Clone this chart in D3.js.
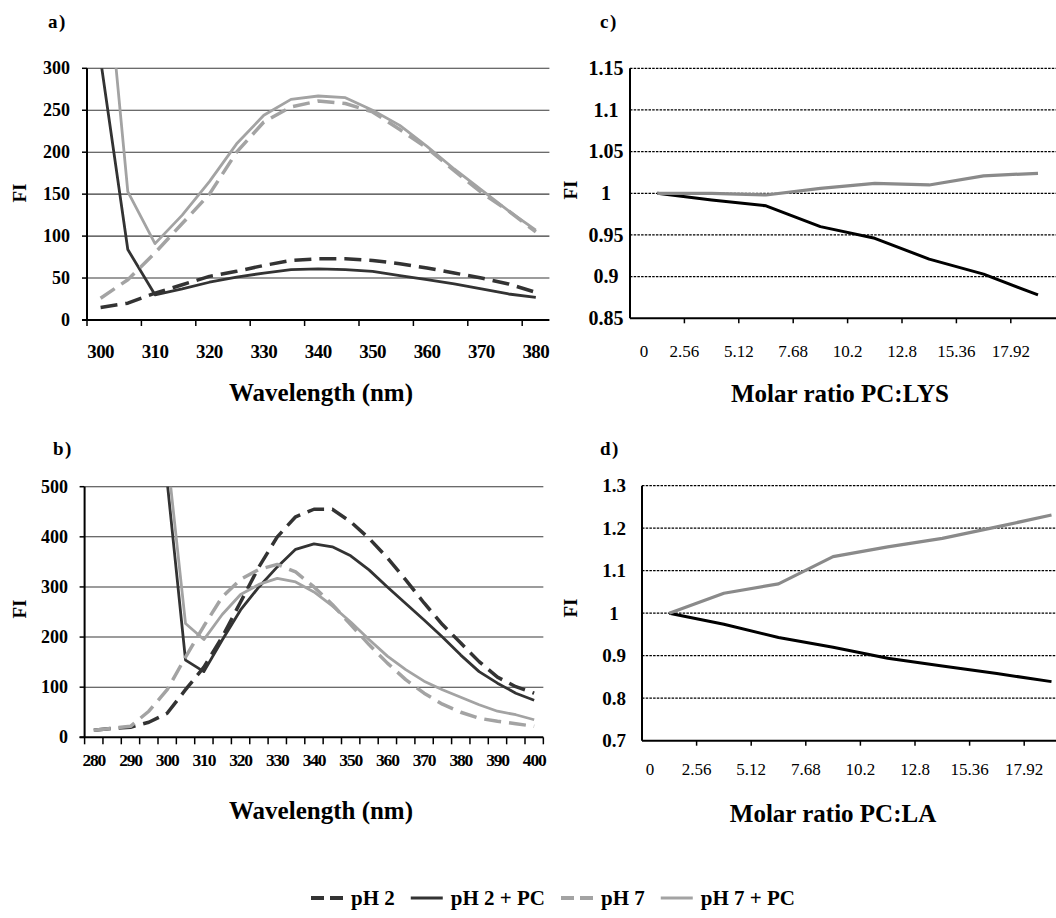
<!DOCTYPE html>
<html><head><meta charset="utf-8">
<script src="https://cdn.jsdelivr.net/npm/d3@7"></script>
<style>
body{margin:0;background:#fff}
svg text{font-family:"Liberation Serif","Times New Roman",serif;fill:#000}
</style>
</head><body>
<svg id="chart" width="1056" height="918"></svg>
<script>
// ---------- DATA ----------
const wavelengthA = [300,305,310,315,320,325,330,335,340,345,350,355,360,365,370,375,380];
const aPH2   = [15,20,32,42,52,58,65,71,73,73,71,67,62,56,50,43,33];
const aPH2PC = [310,84,30,37,45,51,56,60,61,60,58,53,48,43,37,31,27];
const aPH7   = [26,48,80,115,150,200,236,254,261,258,248,227,205,178,152,130,105];
const aPH7PC = [495,153,91,125,165,210,244,263,267,265,250,232,207,180,155,130,107];

const wavelengthB = [280,285,290,295,300,305,310,315,320,325,330,335,340,345,350,355,360,365,370,375,380,385,390,395,400];
const bPH2   = [14,18,20,30,48,95,140,200,270,340,400,440,455,455,430,397,358,314,268,225,188,151,120,101,88];
const bPH2PC = [null,null,null,null,510,154,131,194,254,300,340,375,386,380,362,334,300,267,234,200,164,131,108,88,74];
const bPH7   = [14,18,22,52,95,160,222,280,315,335,345,330,300,265,225,185,148,115,88,66,50,38,32,27,22];
const bPH7PC = [null,null,null,null,565,227,195,245,285,305,317,310,290,262,230,195,162,135,112,95,80,65,52,45,35];

const molarRatio = ["0","2.56","5.12","7.68","10.2","12.8","15.36","17.92"];
const cPH2 = [1.000,0.992,0.985,0.960,0.946,0.921,0.903,0.878];
const cPH7 = [1.000,1.000,0.998,1.006,1.012,1.010,1.021,1.024];
const dPH2 = [1.000,0.974,0.943,0.920,0.894,0.876,0.858,0.839];
const dPH7 = [1.000,1.047,1.069,1.133,1.156,1.176,1.203,1.231];

const yTicksA = [0,50,100,150,200,250,300];
const yTicksB = [0,100,200,300,400,500];
const yTicksC = [0.85,0.9,0.95,1,1.05,1.1,1.15];
const yTicksD = [0.7,0.8,0.9,1,1.1,1.2,1.3];

const legendLabels = ["pH 2","pH 2 + PC","pH 7","pH 7 + PC"];

// ---------- STYLES ----------
const DARK = "#333333", LIGHT = "#a3a3a3";
const specStyle = [
  {color: DARK,  dash: "17,8", width: 3.5},
  {color: DARK,  dash: null,   width: 2.8},
  {color: LIGHT, dash: "17,8", width: 3.5},
  {color: LIGHT, dash: null,   width: 2.8}
];

const svg = d3.select("#chart");
let clipId = 0;

function drawPanel(p) {
  const g = svg.append("g");
  const x = d3.scaleBand().domain(p.cats).range([p.left, p.left + p.cats.length * p.bw]).padding(0);
  const y = d3.scaleLinear().domain(p.yDomain).range([p.bottom, p.top]);
  const right = x.range()[1];
  const bw = x.bandwidth();

  // gridlines
  g.selectAll(null).data(p.yTicks.slice(1)).join("line")
    .attr("x1", p.left).attr("x2", right)
    .attr("y1", d => y(d)).attr("y2", d => y(d))
    .attr("stroke", p.gridColor).attr("stroke-width", p.gridWidth)
    .attr("stroke-dasharray", p.gridDash);

  // y ticks (left)
  if (p.yTickLen) {
    g.selectAll(null).data(p.yTicks).join("line")
      .attr("x1", p.left - p.yTickLen).attr("x2", p.left)
      .attr("y1", d => y(d)).attr("y2", d => y(d))
      .attr("stroke", "#000").attr("stroke-width", 1.5);
  }
  // y labels
  g.selectAll(null).data(p.yTicks).join("text")
    .attr("x", p.yLabelX).attr("y", d => y(d)).attr("dy", "0.34em")
    .attr("text-anchor", p.yAnchor)
    .style("font-size", p.yFont + "px").style("font-weight", "bold")
    .text(d => String(d));

  // series
  const clip = "clip" + (clipId++);
  g.append("clipPath").attr("id", clip).append("rect")
    .attr("x", p.left).attr("y", p.top).attr("width", right - p.left).attr("height", p.bottom - p.top);
  const line = d3.line()
    .defined(d => d.v != null)
    .x(d => x(d.c) + bw / 2)
    .y(d => y(d.v));
  p.series.forEach(s => {
    const pts = p.cats.map((c, i) => ({c, v: s.values[i]}));
    g.append("path").datum(pts)
      .attr("clip-path", `url(#${clip})`)
      .attr("fill", "none")
      .attr("stroke", s.color).attr("stroke-width", s.width)
      .attr("stroke-dasharray", s.dash)
      .attr("stroke-linejoin", "round")
      .attr("d", line);
  });

  // axes
  g.append("line").attr("x1", p.left).attr("x2", p.left).attr("y1", p.top).attr("y2", p.bottom)
    .attr("stroke", "#000").attr("stroke-width", 2);
  g.append("line").attr("x1", p.left - (p.yTickLen || 0)).attr("x2", right).attr("y1", p.bottom).attr("y2", p.bottom)
    .attr("stroke", "#000").attr("stroke-width", 2);

  // x ticks
  const tickCats = p.cats.filter((c, i) => p.tickFilter(i));
  g.selectAll(null).data(tickCats).join("line")
    .attr("x1", d => x(d)).attr("x2", d => x(d))
    .attr("y1", p.bottom).attr("y2", p.bottom + p.xTickLen)
    .attr("stroke", "#000").attr("stroke-width", 1.5);
  if (p.endTick) {
    g.append("line").attr("x1", right).attr("x2", right).attr("y1", p.bottom).attr("y2", p.bottom + p.xTickLen)
      .attr("stroke", "#000").attr("stroke-width", 1.5);
  }
  // x labels
  const labCats = p.cats.filter((c, i) => p.labelFilter(i));
  g.selectAll(null).data(labCats).join("text")
    .attr("x", d => p.labelPos(x, d, p.cats.indexOf(d)))
    .attr("y", p.xLabelY)
    .attr("text-anchor", "middle")
    .style("font-size", p.xFont + "px")
    .style("font-weight", p.xWeight)
    .style("letter-spacing", p.xSpacing)
    .text(d => String(d));

  // titles
  g.append("text").attr("x", p.titleX).attr("y", p.titleY).attr("text-anchor", "middle")
    .style("font-size", "25px").style("font-weight", "bold").text(p.title);
  g.append("text").attr("transform", `translate(${p.fiX},${p.fiY}) rotate(-90)`)
    .attr("text-anchor", "middle").attr("dy", "0.35em")
    .style("font-size", "19px").style("font-weight", "bold").text("FI");
  g.append("text").attr("x", p.tagX).attr("y", p.tagY)
    .style("font-size", "19px").style("font-weight", "bold").style("letter-spacing", "1.5px").text(p.tag);
}

// Panel a
drawPanel({
  cats: wavelengthA, left: 87, bw: 27.2, top: 68.3, bottom: 320,
  yDomain: [0, 300], yTicks: yTicksA, yTickLen: 5, yLabelX: 70, yAnchor: "end", yFont: 18,
  gridColor: "#3a3a3a", gridWidth: 1.1, gridDash: null,
  series: [aPH2, aPH2PC, aPH7, aPH7PC].map((v, i) => Object.assign({values: v}, specStyle[i])),
  tickFilter: i => i % 2 === 0, endTick: false, xTickLen: 6,
  labelFilter: i => i % 2 === 0, labelPos: (x, d) => x(d) + x.bandwidth() / 2,
  xLabelY: 358, xFont: 19, xWeight: "bold", xSpacing: "-0.6px",
  title: "Wavelength (nm)", titleX: 321, titleY: 401,
  fiX: 19, fiY: 193, tag: "a)", tagX: 48, tagY: 28
});

// Panel b
drawPanel({
  cats: wavelengthB, left: 84.6, bw: 18.35, top: 486.7, bottom: 737.3,
  yDomain: [0, 500], yTicks: yTicksB, yTickLen: 5, yLabelX: 68, yAnchor: "end", yFont: 18,
  gridColor: "#3a3a3a", gridWidth: 1.1, gridDash: null,
  series: [bPH2, bPH2PC, bPH7, bPH7PC].map((v, i) => Object.assign({values: v}, specStyle[i])),
  tickFilter: i => true, endTick: true, xTickLen: 7,
  labelFilter: i => i % 2 === 0, labelPos: (x, d) => x(d) + x.bandwidth() / 2,
  xLabelY: 766, xFont: 17.5, xWeight: "bold", xSpacing: "-1.2px",
  title: "Wavelength (nm)", titleX: 321, titleY: 819,
  fiX: 19, fiY: 609, tag: "b)", tagX: 53, tagY: 455
});

// Panel c
drawPanel({
  cats: molarRatio, left: 630, bw: 54.4, top: 68.3, bottom: 318.3,
  yDomain: [0.85, 1.15], yTicks: yTicksC, yTickLen: 0, yLabelX: 606, yAnchor: "middle", yFont: 20,
  gridColor: "#000", gridWidth: 1.2, gridDash: "2.5,1.2",
  series: [
    {values: cPH2, color: "#000", dash: null, width: 3},
    {values: cPH7, color: "#8a8a8a", dash: null, width: 3.2}
  ],
  tickFilter: i => i > 0, endTick: false, xTickLen: 5,
  labelFilter: i => true, labelPos: (x, d, i) => i === 0 ? x(d) + 14 : x(d),
  xLabelY: 357, xFont: 17, xWeight: "normal", xSpacing: "0px",
  title: "Molar ratio PC:LYS", titleX: 840, titleY: 402,
  fiX: 570, fiY: 190, tag: "c)", tagX: 600, tagY: 28
});

// Panel d
drawPanel({
  cats: molarRatio, left: 642, bw: 54.6, top: 485.7, bottom: 740.7,
  yDomain: [0.7, 1.3], yTicks: yTicksD, yTickLen: 0, yLabelX: 614, yAnchor: "middle", yFont: 19,
  gridColor: "#000", gridWidth: 1.2, gridDash: "2.5,1.2",
  series: [
    {values: dPH2, color: "#000", dash: null, width: 3},
    {values: dPH7, color: "#8a8a8a", dash: null, width: 3.2}
  ],
  tickFilter: i => i > 0, endTick: false, xTickLen: 5,
  labelFilter: i => true, labelPos: (x, d, i) => i === 0 ? x(d) + 8 : x(d),
  xLabelY: 775, xFont: 17, xWeight: "normal", xSpacing: "0px",
  title: "Molar ratio PC:LA", titleX: 833, titleY: 822,
  fiX: 570, fiY: 608, tag: "d)", tagX: 600, tagY: 455
});

// Legend
const leg = svg.append("g");
const sampleW = 32, gapS = 8, gapItem = 16, legY = 898;
let cx = 0;
legendLabels.forEach((lab, i) => {
  const it = leg.append("g");
  it.append("line").attr("x1", 0).attr("x2", sampleW).attr("y1", 0).attr("y2", 0)
    .attr("stroke", specStyle[i].color).attr("stroke-width", specStyle[i].dash ? 4 : 3.2)
    .attr("stroke-dasharray", specStyle[i].dash ? "13,6" : null);
  const t = it.append("text").attr("x", sampleW + gapS).attr("y", 0).attr("dy", "0.34em")
    .style("font-size", "21px").style("font-weight", "bold").text(lab);
  const w = sampleW + gapS + t.node().getComputedTextLength();
  it.attr("transform", `translate(${cx},${legY})`);
  cx += w + gapItem;
});
const totalW = cx - gapItem;
leg.attr("transform", `translate(${553 - totalW / 2},0)`);
</script>
</body></html>
